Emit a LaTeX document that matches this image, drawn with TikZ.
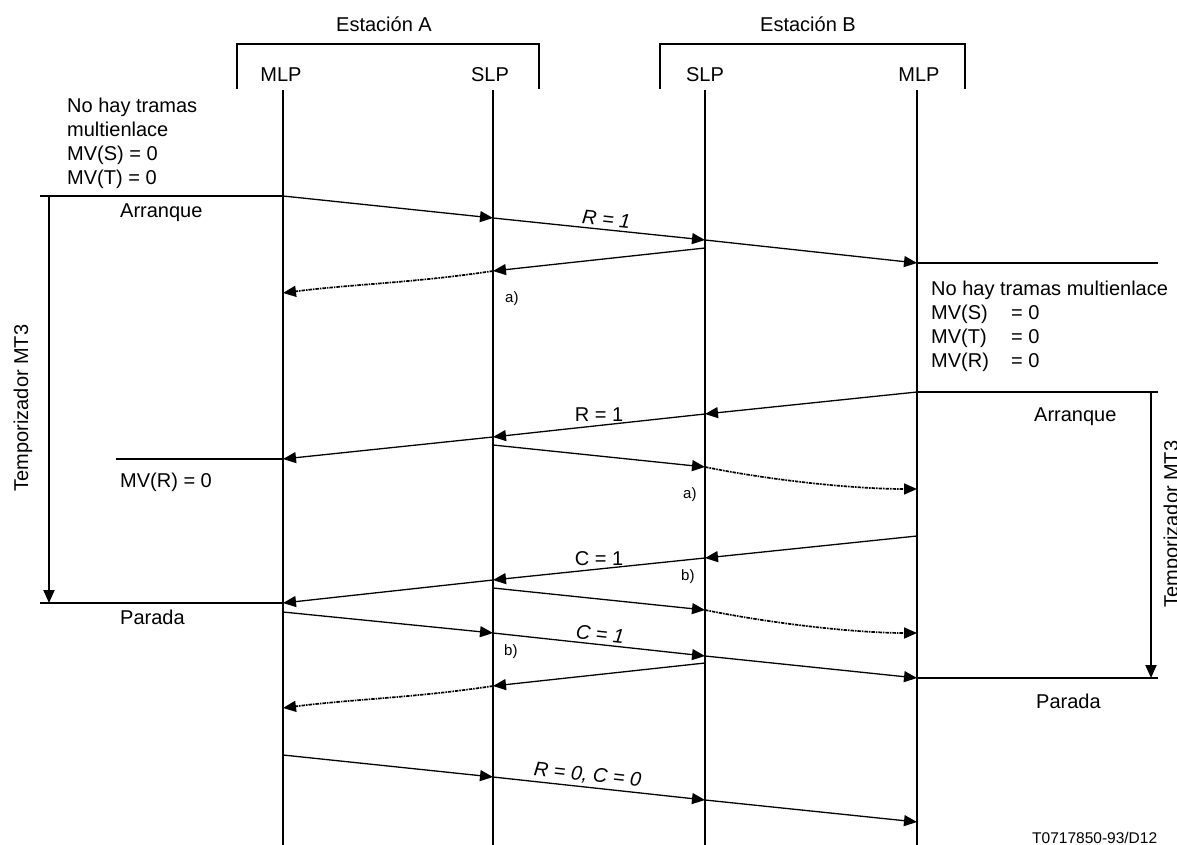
\documentclass[tikz,border=0pt]{standalone}
\usepackage{fontspec}
\setmainfont{Liberation Sans}
\usetikzlibrary{arrows.meta}
\begin{document}
\begin{tikzpicture}[x=1pt,y=-1pt,
  every node/.style={font=\fontsize{20}{24}\selectfont, inner sep=0pt},
  lifeline/.style={line width=2.5pt},
  bracketline/.style={line width=1.3pt},
  thickline/.style={line width=2.3pt},
  msg/.style={line width=1.3pt, -{Triangle[length=13pt,width=11pt]}},
  dotmsg/.style={msg, line width=1.7pt, dash pattern=on 3.5pt off 1pt on 1.5pt off 1pt},
  timer/.style={line width=2pt, -{Triangle[length=13pt,width=11pt]}},
  txt/.style={anchor=base west},
  smalltxt/.style={anchor=base west, font=\fontsize{15}{17}\selectfont},
  lbl/.style={above=3pt, font=\fontsize{20}{24}\selectfont},
  ilbl/.style={sloped, above=3pt, font=\fontsize{20}{24}\selectfont\itshape}
]
\useasboundingbox (0,0) rectangle (1177,845);

% headers
\node[anchor=base] (staA) at (384,32) {Estación A};
\node[anchor=base] (staB) at (808,32) {Estación B};
\coordinate (bA1) at (237,89); \coordinate (bA2) at (539,44); \coordinate (bA3) at (539,89);
\coordinate (bB1) at (660,89); \coordinate (bB2) at (965,44); \coordinate (bB3) at (965,89);
\draw[bracketline] (bA1) |- (bA2) -- (bA3);
\draw[bracketline] (bB1) |- (bB2) -- (bB3);
\node[anchor=base] (hMA) at (281,82) {MLP};
\node[anchor=base] (hSA) at (490,82) {SLP};
\node[anchor=base] (hSB) at (705,82) {SLP};
\node[anchor=base] (hMB) at (919,82) {MLP};

% lifelines
\coordinate (lmaT) at (283,90); \coordinate (lmaB) at (283,845);
\coordinate (lsaT) at (493,90); \coordinate (lsaB) at (493,845);
\coordinate (lsbT) at (705,90); \coordinate (lsbB) at (705,845);
\coordinate (lmbT) at (917,90); \coordinate (lmbB) at (917,845);
\draw[lifeline] (lmaT) -- (lmaB);
\draw[lifeline] (lsaT) -- (lsaB);
\draw[lifeline] (lsbT) -- (lsbB);
\draw[lifeline] (lmbT) -- (lmbB);

% message points
\coordinate (ma1) at (283,196); \coordinate (sa1) at (493,218); \coordinate (sb1) at (705,240); \coordinate (mb1) at (917,263);
\coordinate (sb2) at (705,248); \coordinate (sa2) at (493,271); \coordinate (ma2) at (283,293);
\coordinate (mb3) at (917,392); \coordinate (sb3) at (705,414); \coordinate (sa3) at (493,437); \coordinate (ma3) at (283,459);
\coordinate (sa4) at (493,445); \coordinate (sb4) at (705,467); \coordinate (mb4) at (917,489);
\coordinate (mb5) at (917,536); \coordinate (sb5) at (705,558); \coordinate (sa5) at (493,580); \coordinate (ma5) at (283,603);
\coordinate (sa6) at (493,588); \coordinate (sb6) at (705,610); \coordinate (mb6) at (917,633);
\coordinate (ma7) at (283,612); \coordinate (sa7) at (493,633); \coordinate (sb7) at (705,656); \coordinate (mb7) at (917,678);
\coordinate (sb8) at (705,663); \coordinate (sa8) at (493,686); \coordinate (ma8) at (283,708);
\coordinate (ma9) at (283,755); \coordinate (sa9) at (493,777); \coordinate (sb9) at (705,800); \coordinate (mb9) at (917,822);

% horizontal state lines and timers
\coordinate (hl1) at (40,196); \coordinate (hl2) at (40,603); \coordinate (hl3) at (116,459);
\coordinate (hr1) at (1158,263); \coordinate (hr2) at (1158,392); \coordinate (hr3) at (1158,678);
\draw[thickline] (hl1) -- (ma1);
\draw[thickline] (hl2) -- (ma5);
\draw[thickline] (hl3) -- (ma3);
\draw[thickline] (mb1) -- (hr1);
\draw[thickline] (mb3) -- (hr2);
\draw[thickline] (mb7) -- (hr3);
\coordinate (tl1) at (49,196); \coordinate (tl2) at (49,603);
\coordinate (tr1) at (1151,392); \coordinate (tr2) at (1151,678);
\draw[timer] (tl1) -- (tl2);
\draw[timer] (tr1) -- (tr2);
\node[rotate=90, anchor=base] (tmA) at (28,408) {Temporizador MT3};
\node[rotate=90, anchor=base] (tmB) at (1178,524) {Temporizador MT3};

% messages
\draw[msg] (ma1) -- (sa1);
\draw[msg] (sa1) -- node[ilbl, pos=0.53] (l1) {R = 1} (sb1);
\draw[msg] (sb1) -- (mb1);
\draw[msg] (sb2) -- (sa2);
\draw[dotmsg] (sa2) .. controls +(-80,12) and +(70,-9) .. (ma2);

\draw[msg] (mb3) -- (sb3);
\draw[msg] (sb3) -- node[lbl, pos=0.5] (l2) {R = 1} (sa3);
\draw[msg] (sa3) -- (ma3);
\draw[msg] (sa4) -- (sb4);
\draw[dotmsg] (sb4) .. controls +(75,15) and +(-57,0) .. (mb4);

\draw[msg] (mb5) -- (sb5);
\draw[msg] (sb5) -- node[lbl, pos=0.5] (l3) {C = 1} (sa5);
\draw[msg] (sa5) -- (ma5);
\draw[msg] (sa6) -- (sb6);
\draw[dotmsg] (sb6) .. controls +(75,15) and +(-57,0) .. (mb6);

\draw[msg] (ma7) -- (sa7);
\draw[msg] (sa7) -- node[ilbl, pos=0.5] (l4) {C = 1} (sb7);
\draw[msg] (sb7) -- (mb7);
\draw[msg] (sb8) -- (sa8);
\draw[dotmsg] (sa8) .. controls +(-80,12) and +(70,-9) .. (ma8);

\draw[msg] (ma9) -- (sa9);
\draw[msg] (sa9) -- node[ilbl, pos=0.44] (l5) {R = 0, C = 0} (sb9);
\draw[msg] (sb9) -- (mb9);

% state texts, left
\node[txt] (tA1) at (67,113) {No hay tramas};
\node[txt] (tA2) at (67,137) {multienlace};
\node[txt] (tA3) at (67,161) {MV(S) = 0};
\node[txt] (tA4) at (67,185) {MV(T) = 0};
\node[txt] (arrA) at (120,218) {Arranque};
\node[txt] (mvrA) at (120,487) {MV(R) = 0};
\node[txt] (parA) at (120,624) {Parada};

% state texts, right
\node[txt] (tB1) at (931,295) {No hay tramas multienlace};
\node[txt] (tB2) at (931,319) {\makebox[80pt][l]{MV(S)}= 0};
\node[txt] (tB3) at (931,343) {\makebox[80pt][l]{MV(T)}= 0};
\node[txt] (tB4) at (931,367) {\makebox[80pt][l]{MV(R)}= 0};
\node[txt] (arrB) at (1034,421) {Arranque};
\node[txt] (parB) at (1036,708) {Parada};

% notes
\node[smalltxt] (na1) at (505,302) {a)};
\node[smalltxt] (na2) at (683,498) {a)};
\node[smalltxt] (nb1) at (681,580) {b)};
\node[smalltxt] (nb2) at (504,655) {b)};
\node[anchor=base west, font=\fontsize{15.5}{18}\selectfont] (ref) at (1032,843) {T0717850-93/D12};
\end{tikzpicture}
\end{document}
